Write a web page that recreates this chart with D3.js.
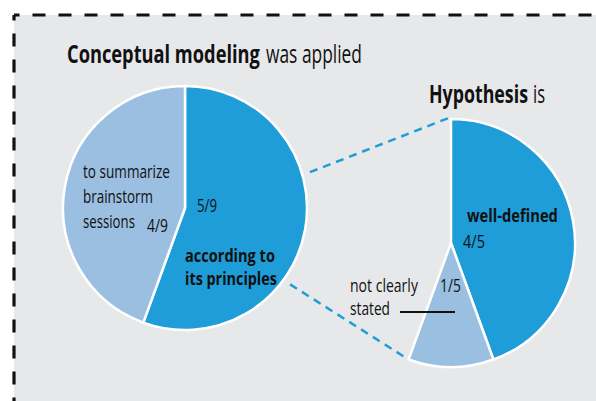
<!DOCTYPE html>
<html>
<head>
<meta charset="utf-8">
<script src="https://cdn.jsdelivr.net/npm/d3@7"></script>
<style>
  body { margin: 0; background: #fff; }
  svg { display: block; }
  text { font-family: "Open Sans", sans-serif; fill: #111; }
</style>
</head>
<body>
<svg id="chart" width="596" height="401"></svg>
<script>
// data: first pie (conceptual modeling), second pie drills into its first slice
const outerCats = [['according to', 'its principles'], ['to summarize', 'brainstorm', 'sessions']];
const outerValues = [5, 4];
const outerShares = ['5/9', '4/9'];
const innerCats = [['well-defined'], ['not clearly', 'stated']];
const innerValues = [4, 1];
const innerShares = ['4/5', '1/5'];
const titleBold = ['Conceptual modeling', 'Hypothesis'];
const titleRest = ['was applied', 'is'];

const DARK = '#1e9dd8', LIGHT = '#9bbfe1', PANEL = '#e7e8ea';

const svg = d3.select('#chart');

// panel + dashed frame (two strokes, both starting in the corner)
svg.append('rect').attr('x', 14).attr('y', 15).attr('width', 600).attr('height', 400).attr('fill', PANEL);
svg.append('g').selectAll('line').data([[596, 15], [14, 401]]).join('line')
  .attr('x1', 14).attr('y1', 15).attr('x2', d => d[0]).attr('y2', d => d[1])
  .attr('stroke', '#111').attr('stroke-width', 3.2)
  .attr('stroke-dasharray', '13 13').attr('stroke-dashoffset', 7.5);

const L = { cx: 185, cy: 208, r: 122 };
const R = { cx: 451, cy: 243, r: 124 };

const outerPie = d3.pie().sort(null)(outerValues);
const innerPie = d3.pie().sort(null)
  .startAngle(outerPie[0].startAngle).endAngle(outerPie[0].endAngle)(innerValues);

const pt = (c, a, rr) => [c.cx + rr * Math.sin(a), c.cy - rr * Math.cos(a)];

// dashed connectors from the drilled slice to the second pie
const conn = [
  [pt(L, 74 * Math.PI / 180, L.r + 8), pt(R, innerPie[0].startAngle - 0.02, R.r + 1)],
  [pt(L, 126 * Math.PI / 180, L.r + 8), pt(R, innerPie[1].endAngle, R.r)]
];
svg.append('g').selectAll('line').data(conn).join('line')
  .attr('x1', d => d[0][0]).attr('y1', d => d[0][1])
  .attr('x2', d => d[1][0]).attr('y2', d => d[1][1])
  .attr('stroke', DARK).attr('stroke-width', 2.5).attr('stroke-dasharray', '8 6');

function drawPie(c, arcs) {
  const arc = d3.arc().innerRadius(0).outerRadius(c.r);
  svg.append('g').attr('transform', `translate(${c.cx},${c.cy})`)
    .selectAll('path').data(arcs).join('path')
    .attr('d', arc)
    .attr('fill', (d, i) => i === 0 ? DARK : LIGHT)
    .attr('stroke', '#fff').attr('stroke-width', 2.5).attr('stroke-linejoin', 'round');
}
drawPie(L, outerPie);
drawPie(R, innerPie);

// text squeezed horizontally to a target width (fakes a condensed face)
function ctext(parent, x, y, str, size, bold, width) {
  const t = parent.append('text')
    .attr('font-size', size).attr('font-weight', bold ? 700 : 400)
    .text(str);
  const k = width / t.node().getComputedTextLength();
  t.attr('transform', `translate(${x},${y}) scale(${k},1)`);
}

// titles: bold part, then regular part
const titleSpec = [
  { x: 67, y: 63, wb: 193, gap: 6, wr: 96 },
  { x: 429, y: 103, wb: 99, gap: 5, wr: 12 }
];
titleBold.forEach((b, i) => {
  const s = titleSpec[i];
  ctext(svg, s.x, s.y, b, 25, true, s.wb);
  ctext(svg, s.x + s.wb + s.gap, s.y, titleRest[i], 25, false, s.wr);
});

// slice labels: offsets from pie centre, line height, line widths
function labels(c, cats, shares, spec) {
  const g = svg.append('g').attr('transform', `translate(${c.cx},${c.cy})`);
  cats.forEach((lines, i) => {
    const s = spec[i];
    lines.forEach((line, j) => ctext(g, s.lx, s.ly + j * s.lh, line, 18, s.bold, s.w[j]));
    ctext(g, s.fx, s.fy, shares[i], 18, false, s.fw);
  });
  return g;
}
labels(L, outerCats, outerShares, [
  { lx: 0, ly: 54, lh: 23, bold: true, w: [90, 92], fx: 12, fy: 4, fw: 20 },
  { lx: -102, ly: -30, lh: 25, bold: false, w: [87, 70, 52], fx: -38, fy: 24, fw: 21 }
]);
const rg = labels(R, innerCats, innerShares, [
  { lx: 16, ly: -21, lh: 23, bold: true, w: [91], fx: 12, fy: 5, fw: 22 },
  { lx: -101, ly: 49, lh: 23, bold: false, w: [68, 40], fx: -11, fy: 49, fw: 21 }
]);
// leader for the small slice
rg.append('line').attr('x1', -51).attr('x2', 4).attr('y1', 69).attr('y2', 69)
  .attr('stroke', '#111').attr('stroke-width', 2);
</script>
</body>
</html>
